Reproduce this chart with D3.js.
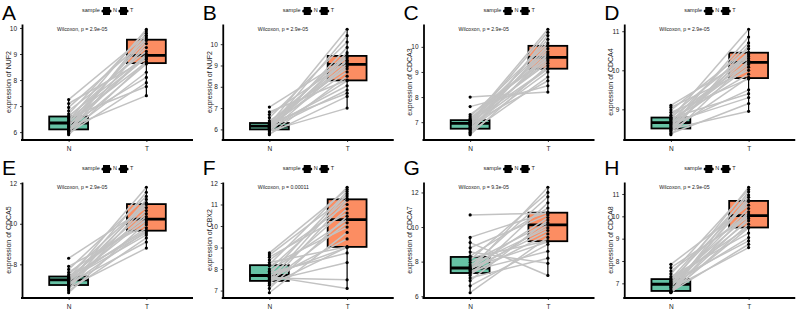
<!DOCTYPE html>
<html>
<head>
<meta charset="utf-8">
<script src="https://cdn.jsdelivr.net/npm/d3@7"></script>
<style>
  body { margin: 0; background: #fff; }
  text { font-family: "Liberation Sans", Arial, sans-serif; }
</style>
</head>
<body>
<div id="the_chart"></div>
<script>
// panel letters, genes, p values
var letters = ["A", "B", "C", "D", "E", "F", "G", "H"];
var genes = ["NUF2", "NUF2", "CDCA3", "CDCA4", "CDCA5", "CBX2", "CDCA7", "CDCA8"];
var pvals = ["2.9e-05", "2.9e-05", "2.9e-05", "2.9e-05", "2.9e-05", "0.00011", "9.3e-05", "2.9e-05"];
var groups = ["N", "T"];

// paired values (same index = same sample)
var a_N = [5.90, 5.95, 6.00, 6.03, 6.07, 6.09, 6.12, 6.18, 6.22, 6.27, 6.31, 6.35, 6.40, 6.44, 6.50, 6.55, 6.58, 6.62, 6.70, 6.82, 6.95, 7.10, 7.25];
var a_T = [8.72, 7.90, 9.40, 8.30, 9.80, 8.62, 9.00, 7.40, 9.65, 8.90, 8.10, 9.52, 8.68, 9.95, 8.85, 7.75, 9.25, 8.95, 9.88, 9.10, 9.58, 8.80, 9.72];
var b_N = [5.75, 5.80, 5.88, 5.93, 5.97, 5.99, 6.01, 6.05, 6.08, 6.10, 6.13, 6.15, 6.18, 6.20, 6.23, 6.26, 6.29, 6.31, 6.40, 6.55, 6.70, 6.82, 7.05];
var b_T = [8.50, 7.55, 9.10, 7.00, 9.85, 8.28, 9.42, 7.85, 10.40, 8.95, 9.25, 8.05, 9.60, 8.70, 10.70, 9.05, 7.70, 9.48, 8.85, 10.10, 9.18, 8.32, 9.35];
var c_N = [6.50, 6.55, 6.60, 6.65, 6.70, 6.73, 6.75, 6.80, 6.85, 6.88, 6.92, 6.95, 6.97, 7.00, 7.02, 7.05, 7.07, 7.09, 7.15, 7.22, 7.30, 7.62, 8.00];
var c_T = [9.25, 10.45, 8.80, 9.72, 10.06, 9.00, 9.58, 10.30, 9.12, 9.92, 8.65, 10.58, 9.45, 9.14, 10.70, 9.80, 9.35, 10.02, 9.65, 10.15, 9.52, 8.45, 8.20];
var d_N = [8.35, 8.38, 8.42, 8.45, 8.48, 8.50, 8.52, 8.55, 8.58, 8.61, 8.64, 8.66, 8.68, 8.71, 8.74, 8.76, 8.78, 8.80, 8.85, 8.92, 8.98, 9.05, 9.10];
var d_T = [10.25, 9.15, 10.62, 9.82, 10.46, 8.95, 10.35, 10.85, 9.50, 10.08, 10.40, 9.30, 10.70, 10.15, 9.90, 11.05, 9.40, 10.20, 10.44, 9.78, 10.55, 10.00, 10.30];
var e_N = [6.60, 6.70, 6.78, 6.85, 6.92, 6.96, 7.00, 7.05, 7.10, 7.15, 7.20, 7.23, 7.26, 7.29, 7.32, 7.35, 7.38, 7.42, 7.50, 7.60, 7.75, 7.90, 8.30];
var e_T = [10.05, 9.30, 10.95, 8.80, 11.20, 9.64, 10.50, 9.10, 11.55, 10.23, 9.80, 10.99, 9.45, 10.65, 11.80, 9.68, 10.35, 9.55, 11.05, 10.15, 11.35, 9.95, 10.80];
var f_N = [6.90, 7.10, 7.25, 7.32, 7.40, 7.44, 7.46, 7.52, 7.58, 7.62, 7.66, 7.70, 7.75, 7.82, 7.90, 8.00, 8.15, 8.21, 8.30, 8.42, 8.55, 8.65, 8.75];
var f_T = [9.70, 10.45, 9.02, 11.20, 10.15, 8.30, 11.50, 9.40, 7.50, 10.80, 7.10, 9.00, 11.60, 8.75, 10.30, 11.28, 9.95, 11.80, 9.04, 11.00, 10.60, 11.40, 11.70];
var g_N = [6.20, 6.60, 6.90, 7.05, 7.20, 7.30, 7.38, 7.45, 7.52, 7.57, 7.60, 7.63, 7.70, 7.80, 7.95, 8.10, 8.22, 8.32, 8.55, 8.80, 9.10, 9.40, 10.70];
var g_T = [9.40, 9.00, 10.40, 8.20, 11.40, 9.60, 10.12, 8.60, 12.30, 9.80, 10.55, 9.15, 11.75, 9.95, 10.25, 12.00, 9.21, 11.10, 7.90, 10.70, 7.20, 10.86, 10.80];
var h_N = [6.58, 6.60, 6.62, 6.63, 6.64, 6.65, 6.67, 6.75, 6.82, 6.88, 6.92, 6.96, 7.00, 7.04, 7.08, 7.12, 7.17, 7.21, 7.30, 7.42, 7.55, 7.70, 7.85];
var h_T = [9.65, 10.85, 8.75, 10.20, 9.48, 11.10, 9.90, 8.60, 10.66, 10.35, 9.05, 11.30, 9.80, 10.03, 8.90, 10.72, 9.52, 10.95, 9.25, 11.20, 10.10, 9.98, 10.50];

// y tick values per panel
var a_ticks = [6, 7, 8, 9, 10];
var b_ticks = [6, 7, 8, 9, 10];
var c_ticks = [7, 8, 9, 10];
var d_ticks = [9, 10, 11];
var e_ticks = [8, 10, 12];
var f_ticks = [7, 8, 9, 10, 11, 12];
var g_ticks = [6, 8, 10, 12];
var h_ticks = [7, 8, 9, 10, 11];

var allN = [a_N, b_N, c_N, d_N, e_N, f_N, g_N, h_N];
var allT = [a_T, b_T, c_T, d_T, e_T, f_T, g_T, h_T];
var allTicks = [a_ticks, b_ticks, c_ticks, d_ticks, e_ticks, f_ticks, g_ticks, h_ticks];

var W = 803, H = 316;
var pw = W / 4, ph = 158;
var colors = {N: "#66C2A5", T: "#FC8D62"};

var svg = d3.select("#the_chart")
            .append("svg")
            .attr("width", W)
            .attr("height", H);

for (var i = 0; i < 8; i++) {
    gen_panel(i);
}

function boxStats(vals) {
    var s = vals.slice().sort(d3.ascending);
    var q1 = d3.quantile(s, 0.25), med = d3.quantile(s, 0.5), q3 = d3.quantile(s, 0.75);
    var iqr = q3 - q1;
    var lo = d3.min(s.filter(function(v) { return v >= q1 - 1.5 * iqr; }));
    var hi = d3.max(s.filter(function(v) { return v <= q3 + 1.5 * iqr; }));
    return {q1: q1, med: med, q3: q3, lo: lo, hi: hi};
}

function gen_panel(i) {
    var col = i % 4, row = Math.floor(i / 4);
    var g = svg.append("g")
               .attr("transform", "translate(" + (col * pw) + "," + (row * ph) + ")");

    var left = 22, right = 193, top = 24, bottom = 140;
    var nv = allN[i], tv = allT[i];
    var lo = d3.min(nv.concat(tv)), hi = d3.max(nv.concat(tv));
    var pad = (hi - lo) * 0.05;

    var yscale = d3.scaleLinear()
                   .domain([lo - pad, hi + pad])
                   .range([bottom, top]);
    var xscale = d3.scalePoint()
                   .domain(groups)
                   .range([left, right])
                   .padding(0.6);
    var bw = xscale.step() * 0.5;

    // boxes
    groups.forEach(function(grp) {
        var vals = grp == "N" ? nv : tv;
        var st = boxStats(vals);
        var cx = xscale(grp);
        g.append("line")
         .attr("x1", cx).attr("x2", cx)
         .attr("y1", yscale(st.lo)).attr("y2", yscale(st.hi))
         .attr("stroke", "black").attr("stroke-width", 1.2);
        g.append("rect")
         .attr("x", cx - bw / 2)
         .attr("y", yscale(st.q3))
         .attr("width", bw)
         .attr("height", yscale(st.q1) - yscale(st.q3))
         .attr("fill", colors[grp])
         .attr("stroke", "black")
         .attr("stroke-width", 1.8);
        g.append("line")
         .attr("x1", cx - bw / 2).attr("x2", cx + bw / 2)
         .attr("y1", yscale(st.med)).attr("y2", yscale(st.med))
         .attr("stroke", "black").attr("stroke-width", 2.8);
    });

    // paired lines
    g.selectAll("line.pair")
     .data(d3.range(nv.length))
     .enter().append("line")
     .attr("class", "pair")
     .attr("x1", xscale("N"))
     .attr("x2", xscale("T"))
     .attr("y1", function(k) { return yscale(nv[k]); })
     .attr("y2", function(k) { return yscale(tv[k]); })
     .attr("stroke", "#c2c2c2")
     .attr("stroke-width", 1.5);

    // points
    var pts = [];
    nv.forEach(function(v) { pts.push({g: "N", v: v}); });
    tv.forEach(function(v) { pts.push({g: "T", v: v}); });
    g.selectAll("circle.pt")
     .data(pts)
     .enter().append("circle")
     .attr("class", "pt")
     .attr("cx", function(d) { return xscale(d.g); })
     .attr("cy", function(d) { return yscale(d.v); })
     .attr("r", 1.6)
     .attr("fill", "black");

    // axes
    var yaxis = d3.axisLeft(yscale)
                  .tickValues(allTicks[i])
                  .tickFormat(d3.format("d"))
                  .tickSize(2)
                  .tickSizeOuter(0);
    var xaxis = d3.axisBottom(xscale)
                  .tickSize(2)
                  .tickSizeOuter(0);

    var gy = g.append("g")
              .attr("transform", "translate(" + left + ",0)")
              .call(yaxis);
    var gx = g.append("g")
              .attr("transform", "translate(0," + bottom + ")")
              .call(xaxis);
    gx.select(".domain").attr("d", "M" + (left - 1) + ",0H" + right);
    [gy, gx].forEach(function(ax) {
        ax.select(".domain").attr("stroke", "black").attr("stroke-width", 1.8);
        ax.selectAll(".tick line").attr("stroke", "black").attr("stroke-width", 0.8);
        ax.selectAll(".tick text")
          .attr("fill", "#222")
          .style("font-family", "Liberation Sans, Arial, sans-serif")
          .style("font-size", "6.5px");
    });
    gx.selectAll(".tick text").attr("dy", "0.9em");

    // y title
    g.append("text")
     .attr("transform", "translate(9," + ((top + bottom) / 2) + ") rotate(-90)")
     .attr("text-anchor", "middle")
     .attr("dominant-baseline", "middle")
     .style("font-size", "7px")
     .attr("fill", "#222")
     .text("expression of " + genes[i]);

    // stat label
    g.append("text")
     .attr("x", 57)
     .attr("y", yscale(hi))
     .attr("dominant-baseline", "middle")
     .style("font-size", "5.2px")
     .attr("fill", "#222")
     .text("Wilcoxon, p = " + pvals[i]);

    // panel letter (bottom row sits a bit higher)
    g.append("text")
     .attr("x", 2)
     .attr("y", row == 0 ? 20 : 17)
     .style("font-size", "21px")
     .attr("fill", "black")
     .text(letters[i]);

    // legend
    var lg = g.append("g").attr("transform", "translate(82,11)");
    lg.append("text")
      .attr("x", 0).attr("y", 0)
      .attr("dominant-baseline", "middle")
      .style("font-size", "5.5px")
      .attr("fill", "#222")
      .text("sample");
    [["N", 21], ["T", 38]].forEach(function(k) {
        var kx = k[1];
        lg.append("rect")
          .attr("x", kx).attr("y", -4)
          .attr("width", 7).attr("height", 8)
          .attr("fill", "black");
        lg.append("circle").attr("cx", kx).attr("cy", 0).attr("r", 1.6).attr("fill", "black");
        lg.append("circle").attr("cx", kx + 7).attr("cy", 0).attr("r", 1.6).attr("fill", "black");
        lg.append("text")
          .attr("x", kx + 10).attr("y", 0)
          .attr("dominant-baseline", "middle")
          .style("font-size", "5.5px")
          .attr("fill", "#222")
          .text(k[0]);
    });
}
</script>
</body>
</html>
